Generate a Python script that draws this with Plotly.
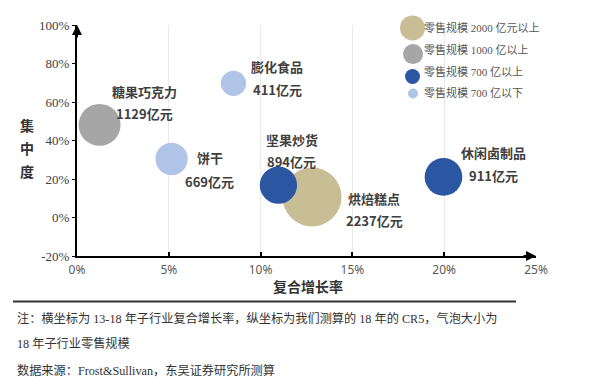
import plotly.graph_objects as go

# ---- data ----
categories = ["糖果巧克力", "膨化食品", "饼干", "烘焙糕点", "坚果炒货", "休闲卤制品"]
cagr = [1.23, 8.52, 5.15, 12.8, 10.97, 19.96]          # % (x)
cr5 = [48.1, 69.7, 30.4, 10.7, 16.8, 21.1]             # % (y)
sales = [1129, 411, 669, 2237, 894, 911]               # 亿元 (bubble size)
x_ticks = [0, 5, 10, 15, 20, 25]
y_ticks = [-20, 0, 20, 40, 60, 80, 100]
legend_labels = ["零售规模 2000 亿元以上", "零售规模 1000 亿以上", "零售规模 700 亿以上", "零售规模 700 亿以下"]
thresholds = [2000, 1000, 700, 0]

# ---- styles ----
cat_colors = ["#C8BE96", "#A6A6A6", "#2B56A2", "#AFC4E6"]
label_offsets = {  # (dx, dy) px for name line and value line
    "糖果巧克力": ((45, -33), (45, -11)),
    "膨化食品": ((44, -17), (44, 6)),
    "饼干": ((38, -1), (38, 23)),
    "烘焙糕点": ((62, 2), (62, 24)),
    "坚果炒货": ((14, -46), (13, -24)),
    "休闲卤制品": ((50, -24), (50, -1)),
}

def color_for(v):
    for t, c in zip(thresholds, cat_colors):
        if v >= t:
            return c
    return cat_colors[-1]

L, R, T, B = 69, 72, 10, 138
W, H = 600, 386
pw, ph = W - L - R, H - T - B

def px2paper(px, py):
    return (px - L) / pw, (H - B - py) / ph

fig = go.Figure()
fig.add_trace(go.Scatter(
    x=cagr, y=cr5, mode="markers",
    marker=dict(size=sales, sizemode="area", sizeref=2 * max(sales) / 59 ** 2,
                color=[color_for(v) for v in sales], line=dict(width=0), opacity=1),
    showlegend=False, hoverinfo="skip",
))

label_font = dict(family="Noto Sans CJK SC", size=13, color="#404040", weight="bold")
annotations = []
for name, xv, yv, s in zip(categories, cagr, cr5, sales):
    (dx1, dy1), (dx2, dy2) = label_offsets[name]
    annotations.append(dict(x=xv, y=yv, xref="x", yref="y", text=f"<b>{name}</b>", showarrow=False,
                            xshift=dx1, yshift=-dy1, font=label_font, xanchor="center", yanchor="middle"))
    annotations.append(dict(x=xv, y=yv, xref="x", yref="y", text=f"<b>{s}亿元</b>", showarrow=False,
                            xshift=dx2, yshift=-dy2, font=label_font, xanchor="center", yanchor="middle"))

# axis arrows
annotations.append(dict(x=1, y=0, xref="x domain", yref="y domain", ax=-14, ay=0, text="",
                        showarrow=True, arrowhead=2, arrowsize=1, arrowwidth=2, arrowcolor="#000"))
annotations.append(dict(x=0, y=1, xref="x domain", yref="y domain", ax=0, ay=14, text="",
                        showarrow=True, arrowhead=2, arrowsize=1, arrowwidth=2, arrowcolor="#000"))

# y axis title (stacked)
for ch, py in zip("集中度", [113, 137, 160]):
    xp, yp = px2paper(19, py)
    annotations.append(dict(x=xp, y=yp, xref="paper", yref="paper", text=f"<b>{ch}</b>", showarrow=False,
                            font=dict(family="Noto Sans CJK SC", size=14, color="#333"),
                            xanchor="center", yanchor="middle"))
# x axis title
xp, yp = px2paper(300, 279)
annotations.append(dict(x=xp, y=yp, xref="paper", yref="paper", text="<b>复合增长率</b>", showarrow=False,
                        font=dict(family="Noto Sans CJK SC", size=14, color="#333"),
                        xanchor="center", yanchor="middle"))

# legend (manual)
shapes = []
x0p, y0p = px2paper(388, 0)
x1p, y1p = px2paper(548, 93)
shapes.append(dict(type="rect", xref="paper", yref="paper", x0=x0p, x1=x1p, y0=y1p, y1=y0p,
                   fillcolor="white", line=dict(width=0), layer="between"))
leg_circles = [(404.5, 13, 25), (405, 40, 20), (404.5, 63, 15), (405, 80.5, 10)]
leg_text_y = [13, 35, 58, 80]
for (cx, cy, d), c, lab, ty in zip(leg_circles, cat_colors, legend_labels, leg_text_y):
    ax_, ay_ = px2paper(cx, cy)
    shapes.append(dict(type="circle", xref="paper", yref="paper", xsizemode="pixel", ysizemode="pixel",
                       xanchor=ax_, yanchor=ay_, x0=-d / 2, x1=d / 2, y0=-d / 2, y1=d / 2,
                       fillcolor=c, line=dict(width=0), layer="above"))
    tx, typ = px2paper(414, ty)
    annotations.append(dict(x=tx, y=typ, xref="paper", yref="paper", text=lab, showarrow=False,
                            font=dict(family="Liberation Serif, Noto Sans CJK SC", size=11, color="#555"),
                            xanchor="left", yanchor="middle"))

# footer line + notes
fx0, fy = px2paper(5, 295)
fx1, _ = px2paper(508, 295)
shapes.append(dict(type="line", xref="paper", yref="paper", x0=fx0, x1=fx1, y0=fy, y1=fy,
                   line=dict(color="#333", width=2)))
notes = ["注：横坐标为 13-18 年子行业复合增长率，纵坐标为我们测算的 18 年的 CR5，气泡大小为",
         "18 年子行业零售规模",
         "数据来源：Frost&Sullivan，东吴证券研究所测算"]
for txt, py in zip(notes, [312, 338, 366]):
    nx, ny = px2paper(7, py)
    annotations.append(dict(x=nx, y=ny, xref="paper", yref="paper", text=txt, showarrow=False,
                            font=dict(family="Liberation Serif, Noto Sans CJK SC", size=12.2, color="#333"),
                            xanchor="left", yanchor="middle"))

fig.update_layout(
    width=W, height=H, margin=dict(l=L, r=R, t=T, b=B),
    paper_bgcolor="white", plot_bgcolor="white",
    xaxis=dict(range=[0, 25], tickvals=x_ticks, ticktext=[f"{v}%" for v in x_ticks],
               showgrid=True, gridcolor="#EAEAEA", gridwidth=1, zeroline=False,
               showline=True, linecolor="#000", linewidth=2, ticks="inside", ticklen=4,
               tickcolor="#000", tickwidth=1.5, ticklabelstandoff=2,
               tickfont=dict(family="Noto Sans, Liberation Sans", size=12, color="#595959")),
    yaxis=dict(range=[-20, 100], tickvals=y_ticks, ticktext=[f"{v}%" for v in y_ticks],
               showgrid=False, zeroline=False,
               showline=True, linecolor="#000", linewidth=2, ticks="outside", ticklen=3,
               tickcolor="#000", tickwidth=1,
               tickfont=dict(family="Liberation Serif", size=13, color="#404040")),
    annotations=annotations, shapes=shapes,
)

fig.write_html("out.html")
